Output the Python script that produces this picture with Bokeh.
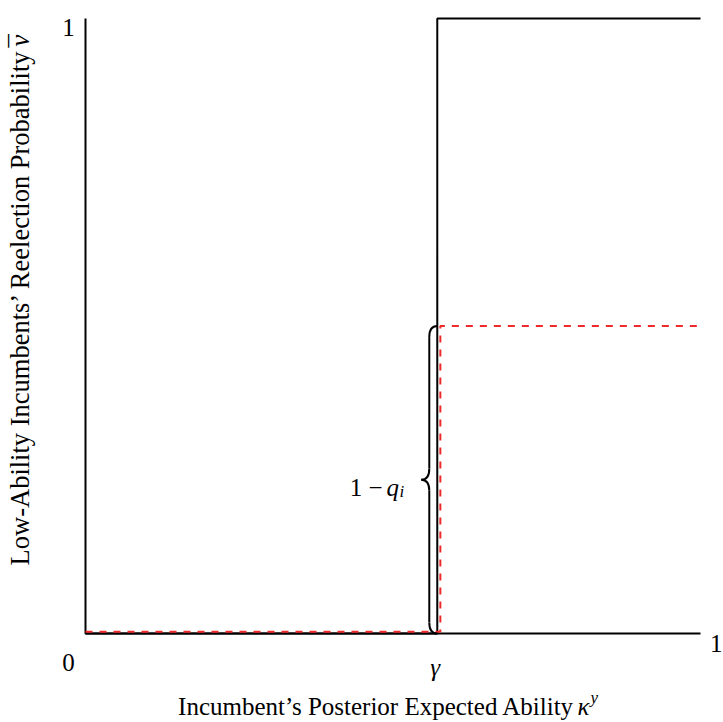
from bokeh.plotting import figure
from bokeh.models import Range1d
from bokeh.embed import file_html
from bokeh.resources import INLINE
from bokeh.core.properties import value
import math

# ---- data ----
gamma = 0.572          # threshold for incumbent posterior ability
gamma_red = 0.577      # dashed threshold (drawn slightly right)
black_x = [0, gamma, gamma, 1]
black_y = [0, 0, 1, 1]
red_low = 0.003
red_high = 0.5
red_x = [0, gamma_red, gamma_red, 1]
red_y = [red_low, red_low, red_high, red_high]
axis_x = [0, 0, 1]
axis_y = [1, 0, 0]

# ---- layout mapping (pixel -> data) ----
W, H = 723, 722
X0, X1 = 85, 700
Y0, Y1 = 633, 18
S = (X1 - X0)


def dx(px):
    return (px - X0) / S


def dy(py):
    return (Y0 - py) / S


p = figure(width=W, height=H, output_backend="svg", toolbar_location=None,
           x_range=Range1d(dx(0), dx(W)), y_range=Range1d(dy(H), dy(0)),
           x_axis_location=None, y_axis_location=None, min_border=0)
p.grid.visible = False
p.outline_line_color = None
p.background_fill_color = "white"
p.border_fill_color = "white"

FONT = value("Liberation Serif")
FS = "25px"
FS_Y = "26.5px"
FS_SMALL = "17px"

# axes
p.line(axis_x, axis_y, line_color="black", line_width=2)
# black step
p.line(black_x, black_y, line_color="black", line_width=2)
# red dashed step
p.line(red_x, red_y, line_color="#ee2a2a", line_width=2, line_dash="7 7")

# curly brace on the left of gamma spanning 0..red_high
bw = 0.026
bh = bw / 2
br = 0.018
top, bot = red_high, 0.0
mid = (top + bot) / 2
gx = gamma
p.quadratic(x0=[gx, gx - bh, gx, gx - bh], y0=[top, mid + br, bot, mid - br],
            x1=[gx - bh, gx - bw, gx - bh, gx - bw], y1=[top - br, mid, bot + br, mid],
            cx=[gx - bh, gx - bh, gx - bh, gx - bh], cy=[top, mid, bot, mid],
            line_color="black", line_width=2)
p.segment(x0=[gx - bh, gx - bh], y0=[top - br, mid - br], x1=[gx - bh, gx - bh], y1=[mid + br, bot + br],
          line_color="black", line_width=2)

# brace label 1 − q_i
p.text(x=[dx(382)], y=[dy(487)], text=["1 −"], text_font=FONT, text_font_size=FS,
       text_align="right", text_baseline="alphabetic", text_color="black")
p.text(x=[dx(386)], y=[dy(487)], text=["q"], text_font=FONT, text_font_size=FS,
       text_font_style="italic", text_align="left", text_baseline="alphabetic", text_color="black")
p.text(x=[dx(399)], y=[dy(491)], text=["i"], text_font=FONT, text_font_size=FS_SMALL,
       text_font_style="italic", text_align="left", text_baseline="alphabetic", text_color="black")

# tick-like labels
p.text(x=[dx(68), dx(68), dx(722)], y=[dy(27), dy(662), dy(643)], text=["1", "0", "1"],
       text_font=FONT, text_font_size=FS, text_align=["center", "center", "right"],
       text_baseline="alphabetic", text_color="black")
p.text(x=[dx(gamma * S + X0 - 2)], y=[dy(667)], text=["γ"], text_font=FONT, text_font_size=FS,
       text_font_style="italic", text_align="center", text_baseline="alphabetic", text_color="black")

# x-axis label
p.text(x=[dx(574)], y=[dy(706)], text=["Incumbent’s Posterior Expected Ability"],
       text_font=FONT, text_font_size=FS, text_align="right", text_baseline="alphabetic",
       text_color="black")
p.text(x=[dx(577)], y=[dy(706)], text=["κ"], text_font=FONT, text_font_size=FS,
       text_font_style="italic", text_align="left", text_baseline="alphabetic", text_color="black")
p.text(x=[dx(590)], y=[dy(697)], text=["y"], text_font=FONT, text_font_size=FS_SMALL,
       text_font_style="italic", text_align="left", text_baseline="alphabetic", text_color="black")

# y-axis label (rotated)
p.text(x=[dx(19)], y=[dy(49)], text=["Low-Ability Incumbents’ Reelection Probability"],
       text_font=FONT, text_font_size=FS_Y, text_align="right", text_baseline="alphabetic",
       angle=math.pi / 2, text_color="black")
p.text(x=[dx(19)], y=[dy(46)], text=["ν"],
       text_font=FONT, text_font_size=FS_Y, text_font_style="italic", text_align="left",
       text_baseline="alphabetic", angle=math.pi / 2, text_color="black")
p.text(x=[dx(19)], y=[dy(47)], text=["¯"],
       text_font=FONT, text_font_size=FS_Y, text_align="left",
       text_baseline="alphabetic", angle=math.pi / 2, text_color="black")

open("out.html", "w").write(file_html(p, INLINE))
